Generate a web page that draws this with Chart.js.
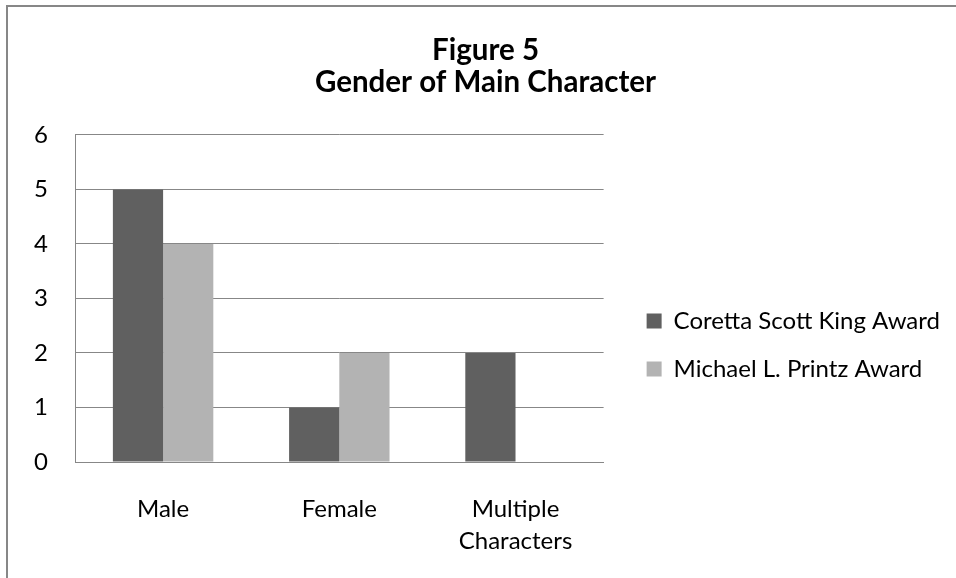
<!DOCTYPE html>
<html>
<head>
<meta charset="utf-8">
<script src="https://cdn.jsdelivr.net/npm/chart.js@4/dist/chart.umd.min.js"></script>
<style>
  html, body { margin: 0; padding: 0; background: #fff; }
  .wrap { position: relative; width: 956px; height: 578px; }
  .frame {
    position: absolute; left: 6px; top: 5px; right: 0; bottom: 0;
    border-left: 2px solid #878787; border-top: 2px solid #878787;
    pointer-events: none;
  }
  canvas { position: absolute; left: 0; top: 0; }
</style>
</head>
<body>
<div class="wrap">
  <canvas id="chart" width="956" height="578"></canvas>
  <div class="frame"></div>
</div>
<script>
'use strict';

/* ---- DATA -------------------------------------------------- */
const categories = ['Male', 'Female', ['Multiple', 'Characters']];
const corettaScottKing = [5, 1, 2];
const michaelPrintz = [4, 2, 0];
const seriesNames = ['Coretta Scott King Award', 'Michael L. Printz Award'];
const titleLines = ['Figure 5', 'Gender of Main Character'];

const FONT = 'Lato, "Open Sans", sans-serif';
const GRID = '#878787';

// nudge legend and title to where the original had them
const boxShift = {
  id: 'boxShift',
  afterLayout(chart) {
    const lg = chart.legend;
    if (lg) {
      lg.top += 56;
      lg.bottom += 56;
      lg.left += 19;
      lg.right += 19;
    }
    const tt = chart.titleBlock;
    if (tt) {
      tt.left += 10;
      tt.right += 10;
    }
  }
};

function drawChart() {
  new Chart(document.getElementById('chart'), {
    type: 'bar',
    data: {
      labels: categories,
      datasets: [
        { label: seriesNames[0], data: corettaScottKing, backgroundColor: '#606060' },
        { label: seriesNames[1], data: michaelPrintz, backgroundColor: '#b3b3b3' }
      ]
    },
    options: {
      responsive: false,
      animation: false,
      devicePixelRatio: 1,
      categoryPercentage: 0.57,
      barPercentage: 1,
      layout: { padding: { left: 20, right: 25, top: 0, bottom: 0 } },
      plugins: {
        title: {
          display: true,
          text: titleLines,
          color: '#000',
          font: { family: FONT, size: 29.5, weight: 'bold', lineHeight: 1.1 },
          padding: { top: 34, bottom: 36 }
        },
        legend: {
          position: 'right',
          maxWidth: 400,
          labels: {
            color: '#000',
            font: { family: FONT, size: 24 },
            boxWidth: 15,
            boxHeight: 15,
            padding: 24
          }
        },
        tooltip: { enabled: false }
      },
      scales: {
        x: {
          grid: { display: false, drawTicks: false },
          border: { display: true, color: GRID, width: 1 },
          ticks: { color: '#000', font: { family: FONT, size: 24, lineHeight: 1.3 }, padding: 32, maxRotation: 0 },
          afterFit(scale) { scale.height = 578 - 462; }
        },
        y: {
          min: 0,
          max: 6,
          ticks: { stepSize: 1, color: '#000', font: { family: FONT, size: 24 }, padding: 27 },
          grid: { color: GRID, lineWidth: 1, drawTicks: false },
          border: { display: true, color: GRID, width: 1 },
          afterFit(scale) { scale.width = 55; }
        }
      }
    },
    plugins: [boxShift]
  });
}

Promise.all([
  document.fonts.load('24px Lato'),
  document.fonts.load('bold 29px Lato')
]).then(drawChart, drawChart);
</script>
</body>
</html>
